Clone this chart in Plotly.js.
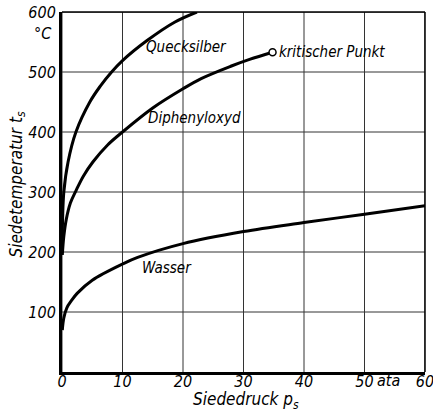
<!DOCTYPE html>
<html><head><meta charset="utf-8">
<script src="https://cdn.plot.ly/plotly-3.0.1.min.js"></script>
<style>html,body{margin:0;padding:0;background:#fff}#c{width:433px;height:412px}</style>
</head><body><div id="c"></div>
<script>
const wasserP = [0.05, 0.3, 0.8, 1.5, 2.5, 5, 10, 12.5, 20, 30, 40, 50, 60];
const wasserT = [70, 90, 107, 118, 131, 153, 180, 191, 214, 234, 249, 263, 277];
const hgP = [0.02, 0.1, 0.3, 1.0, 2.3, 4.6, 6.3, 8.2, 10, 14, 18.6, 22.3];
const hgT = [200, 255, 300, 350, 400, 450, 476, 500, 519, 552, 583, 600];
const dipP = [0.05, 0.3, 0.7, 1.4, 2.3, 3.5, 5.1, 7.5, 10, 15, 20, 23, 28, 31, 34.8];
const dipT = [195, 226, 254, 282, 302, 326, 350, 378, 400, 440, 472, 489, 510, 521, 533];
const xTicks = [0, 10, 20, 30, 40, 50, 60];
const yTicks = [100, 200, 300, 400, 500, 600];
const critP = [dipP[dipP.length-1]];
const critT = [dipT[dipT.length-1]];

const F = {family: '"DejaVu Sans Condensed", "DejaVu Sans", sans-serif', style: 'italic', color: '#000'};
const f = (s) => Object.assign({}, F, {size: s});

const line = {color: '#000', width: 3, shape: 'spline', smoothing: 1};
const traces = [
  {x: wasserP, y: wasserT, mode: 'lines', line: line, hoverinfo: 'skip'},
  {x: hgP, y: hgT, mode: 'lines', line: line, hoverinfo: 'skip'},
  {x: dipP, y: dipT, mode: 'lines', line: line, hoverinfo: 'skip'},
  {x: critP, y: critT, mode: 'markers', marker: {symbol: 'circle', size: 7, color: '#fff', line: {width: 1.5, color: '#000'}}, hoverinfo: 'skip'}
];

const grid = [];
xTicks.forEach(v => grid.push({type: 'line', layer: 'below', xref: 'x', yref: 'paper', x0: v, x1: v, y0: 0, y1: 1, line: {color: '#333', width: 1}}));
yTicks.forEach(v => grid.push({type: 'line', layer: 'below', xref: 'paper', yref: 'y', x0: 0, x1: 1, y0: v, y1: v, line: {color: '#333', width: 1}}));

const ax = {showgrid: false, zeroline: false, showline: true, linecolor: '#000', ticks: '', tickfont: f(16), fixedrange: true, ticklabeloverflow: 'allow'};
const layout = {
  width: 433, height: 412,
  margin: {l: 62, r: 8, t: 12, b: 40},
  paper_bgcolor: '#fff', plot_bgcolor: '#fff',
  showlegend: false,
  xaxis: Object.assign({}, ax, {range: [0, 60], tickmode: 'array', tickvals: xTicks, ticktext: xTicks.map(String), linewidth: 2.5, ticklabelstandoff: -7}),
  yaxis: Object.assign({}, ax, {range: [0, 600], tickmode: 'array', tickvals: yTicks, ticktext: yTicks.map(String), linewidth: 3}),
  shapes: grid.concat([
    {type: 'line', xref: 'paper', yref: 'paper', x0: 0, x1: 1, y0: 1, y1: 1, line: {color: '#000', width: 1.5}},
    {type: 'line', xref: 'paper', yref: 'paper', x0: 1, x1: 1, y0: 0, y1: 1, line: {color: '#000', width: 1.5}}
  ]),
  annotations: [
    {x: 20.6, y: 542, text: 'Quecksilber', showarrow: false, font: f(15)},
    {x: 21.9, y: 423, text: 'Diphenyloxyd', showarrow: false, font: f(15)},
    {x: 35.6, y: 533, text: 'kritischer Punkt', showarrow: false, xanchor: 'left', font: f(15)},
    {x: 17.3, y: 173, text: 'Wasser', showarrow: false, font: f(15)},
    {x: 54, y: -0.025, yref: 'paper', yanchor: 'middle', xanchor: 'center', text: 'ata', showarrow: false, font: f(16)},
    {x: -0.052, xref: 'paper', xanchor: 'center', y: 0.94, yref: 'paper', yanchor: 'middle', text: '°C', showarrow: false, font: f(16)},
    {x: 0.508, xref: 'paper', xanchor: 'center', y: -0.08, yref: 'paper', yanchor: 'middle', text: 'Siededruck p<sub>s</sub>', showarrow: false, font: f(17)},
    {x: -0.122, xref: 'paper', xanchor: 'center', y: 0.52, yref: 'paper', yanchor: 'middle', text: 'Siedetemperatur t<sub>s</sub>', textangle: -90, showarrow: false, font: f(17)}
  ]
};
Plotly.newPlot('c', traces, layout, {staticPlot: true, displayModeBar: false});
</script></body></html>
